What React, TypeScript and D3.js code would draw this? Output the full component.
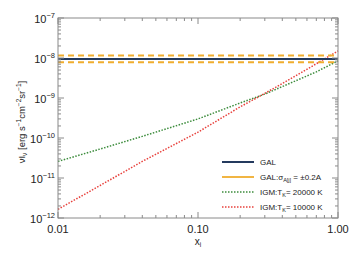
import React from 'react';
import * as d3 from 'd3';

// fraction x_i sampled along the curves
const xiValues = [0.01, 0.02, 0.04, 0.1, 0.2, 0.3, 0.5, 0.7, 1.0];
const igm20000 = [2.6e-11, 5.3e-11, 1.1e-10, 3.0e-10, 7.5e-10, 1.25e-9, 2.7e-9, 4.5e-9, 8.5e-9];
const igm10000 = [1.65e-12, 6.5e-12, 2.6e-11, 1.4e-10, 6.0e-10, 1.3e-9, 3.6e-9, 7.2e-9, 1.5e-8];
const galLevel = [9.5e-9];
const galBand = [1.15e-8, 7.8e-9];

const xTicks = [0.01, 0.1, 1];
const xTickLabels = ['0.01', '0.10', '1.00'];
const yTickExps = [-12, -11, -10, -9, -8, -7];

const W = 357;
const H = 255;
const margin = { top: 18, right: 19, bottom: 37, left: 58 };
const FONT = '"Liberation Sans", Arial, sans-serif';

const App = () => {
  const iw = W - margin.left - margin.right;
  const ih = H - margin.top - margin.bottom;

  const x = d3.scaleLog().domain([0.01, 1]).range([0, iw]);
  const y = d3.scaleLog().domain([1e-12, 1e-7]).range([ih, 0]);

  const line = d3.line<number>()
    .x((_, i) => x(xiValues[i]))
    .y(d => y(d));

  // minor ticks for both log axes
  const xMinor: number[] = [];
  for (let e = -2; e < 0; e++) for (let m = 2; m <= 9; m++) xMinor.push(m * Math.pow(10, e));
  const yMinor: number[] = [];
  for (let e = -12; e < -7; e++) for (let m = 2; m <= 9; m++) yMinor.push(m * Math.pow(10, e));

  const axisColor = '#8a8a8a';
  const textColor = '#222';

  const legend = [
    { key: 'gal', color: '#243a5e', width: 2, dash: null },
    { key: 'band', color: '#f0ad2e', width: 1.8, dash: null },
    { key: 'g', color: '#3c8c3c', width: 1.5, dash: '1.5,1.5' },
    { key: 'r', color: '#e8413c', width: 1.5, dash: '1.5,1.5' },
  ];

  return (
    <svg width={W} height={H} style={{ position: 'absolute', left: 0, top: 0, background: '#fff' }}
      fontFamily={FONT}>
      <g transform={`translate(${margin.left},${margin.top})`}>
        {/* data */}
        <path d={line(igm20000) || ''} fill="none" stroke="#3c8c3c" strokeWidth={1.5} strokeDasharray="1.5,1.5" />
        <path d={line(igm10000) || ''} fill="none" stroke="#e8413c" strokeWidth={1.5} strokeDasharray="1.5,1.5" />
        {galBand.map((v, i) => (
          <line key={i} x1={0} x2={iw} y1={y(v)} y2={y(v)} stroke="#f0ad2e" strokeWidth={2} strokeDasharray="6,4" />
        ))}
        {galLevel.map((v, i) => (
          <line key={i} x1={0} x2={iw} y1={y(v)} y2={y(v)} stroke="#243a5e" strokeWidth={2} />
        ))}

        {/* frame */}
        <rect x={0} y={0} width={iw} height={ih} fill="none" stroke={axisColor} strokeWidth={1} />

        {/* x ticks, bottom and top */}
        {xTicks.map(t => (
          <g key={t}>
            <line x1={x(t)} x2={x(t)} y1={ih} y2={ih - 6} stroke={axisColor} />
            <line x1={x(t)} x2={x(t)} y1={0} y2={6} stroke={axisColor} />
          </g>
        ))}
        {xMinor.map(t => (
          <g key={t}>
            <line x1={x(t)} x2={x(t)} y1={ih} y2={ih - 3} stroke={axisColor} />
            <line x1={x(t)} x2={x(t)} y1={0} y2={3} stroke={axisColor} />
          </g>
        ))}
        {/* y ticks, left and right */}
        {yTickExps.map(e => (
          <g key={e}>
            <line x1={0} x2={6} y1={y(Math.pow(10, e))} y2={y(Math.pow(10, e))} stroke={axisColor} />
            <line x1={iw} x2={iw - 6} y1={y(Math.pow(10, e))} y2={y(Math.pow(10, e))} stroke={axisColor} />
          </g>
        ))}
        {yMinor.map(t => (
          <g key={t}>
            <line x1={0} x2={3} y1={y(t)} y2={y(t)} stroke={axisColor} />
            <line x1={iw} x2={iw - 3} y1={y(t)} y2={y(t)} stroke={axisColor} />
          </g>
        ))}

        {/* tick labels */}
        {xTicks.map((t, i) => (
          <text key={t} x={x(t)} y={ih + 15} textAnchor="middle" fontSize={11} fill={textColor}>
            {xTickLabels[i]}
          </text>
        ))}
        {yTickExps.map(e => (
          <text key={e} x={-3} y={y(Math.pow(10, e)) + 5} textAnchor="end" fontSize={11} fill={textColor}>
            10<tspan fontSize={7.5} dy={-5}>{'\u2212' + Math.abs(e)}</tspan>
          </text>
        ))}

        {/* axis titles */}
        <text x={iw / 2} y={ih + 27} textAnchor="middle" fontSize={10} fill={textColor}>
          x<tspan fontSize={6.5} dy={2}>i</tspan>
        </text>
        <text transform={`translate(${-33},${ih / 2 + 4}) rotate(-90)`} textAnchor="middle" fontSize={9.5} fill={textColor}>
          νI<tspan fontSize={6.5} dy={2}>ν</tspan>
          <tspan dy={-2}> [erg s</tspan>
          <tspan fontSize={6.5} dy={-4}>−1</tspan>
          <tspan dy={4}>cm</tspan>
          <tspan fontSize={6.5} dy={-4}>−2</tspan>
          <tspan dy={4}>sr</tspan>
          <tspan fontSize={6.5} dy={-4}>−1</tspan>
          <tspan dy={4}>]</tspan>
        </text>

        {/* legend */}
        <g transform={`translate(${164},${144})`} fontSize={8} fill={textColor}>
          {legend.map((l, i) => (
            <line key={l.key} x1={0} x2={32} y1={i * 15} y2={i * 15} stroke={l.color}
              strokeWidth={l.width} strokeDasharray={l.dash || undefined} />
          ))}
          <text x={38} y={3}>GAL</text>
          <text x={38} y={18}>
            GAL:σ<tspan fontSize={5.5} dy={2}>A[j]</tspan><tspan dy={-2}> = ±0.2A</tspan>
          </text>
          <text x={38} y={33}>
            IGM:T<tspan fontSize={5.5} dy={2}>K</tspan><tspan dy={-2}>= 20000 K</tspan>
          </text>
          <text x={38} y={48}>
            IGM:T<tspan fontSize={5.5} dy={2}>K</tspan><tspan dy={-2}>= 10000 K</tspan>
          </text>
        </g>
      </g>
    </svg>
  );
};

export default App;
